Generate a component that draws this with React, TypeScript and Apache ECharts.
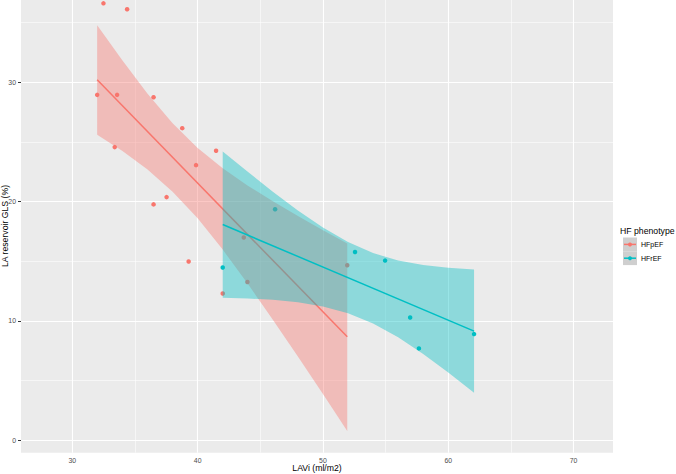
import React, { useEffect, useRef } from "react";
import * as echarts from "echarts";

// HFpEF observations (LAVi, LA reservoir GLS)
const hfpefPoints: [number, number][] = [
  [32.48, 36.62], [34.37, 36.12], [31.98, 28.95], [33.57, 28.95], [36.48, 28.75],
  [33.38, 24.57], [38.77, 26.16], [41.47, 24.27], [39.87, 23.06], [36.48, 19.77],
  [37.52, 20.38], [43.68, 16.99], [39.28, 14.98], [42.0, 12.3], [43.97, 13.27],
  [51.94, 14.67],
];
// HFrEF observations
const hfrefPoints: [number, number][] = [
  [42.0, 14.48], [46.18, 19.36], [52.56, 15.78], [54.96, 15.06],
  [56.96, 10.29], [57.66, 7.7], [62.06, 8.9],
];

// fitted lines (end points)
const hfpefFit: [number, number][] = [[31.98, 30.21], [51.94, 8.67]];
const hfrefFit: [number, number][] = [[42.0, 18.08], [62.06, 9.15]];

// confidence ribbons
const hfpefBandX = [31.98, 34, 36, 38, 40, 42, 44, 46, 48, 50, 51.94];
const hfpefBandLow = [25.6, 24.24, 22.69, 20.84, 18.6, 15.98, 13.12, 10.11, 7.02, 3.89, 0.78];
const hfpefBandHigh = [34.78, 31.82, 29.05, 26.58, 24.5, 22.8, 21.34, 20.03, 18.8, 17.61, 16.5];

const hfrefBandX = [42.0, 44, 46, 48, 50, 52, 54, 56, 58, 60, 62.06];
const hfrefBandLow = [11.95, 11.88, 11.77, 11.56, 11.21, 10.65, 9.79, 8.63, 7.23, 5.68, 3.98];
const hfrefBandHigh = [24.21, 22.5, 20.83, 19.26, 17.83, 16.62, 15.69, 15.07, 14.69, 14.46, 14.32];

const xMajor = [30, 40, 50, 60, 70];
const xMinor = [35, 45, 55, 65];
const yMajor = [0, 10, 20, 30];
const yMinor = [5, 15, 25, 35];

const legendNames = ["HFpEF", "HFrEF"];
const xTitle = "LAVi (ml/m2)";
const yTitle = "LA reservoir GLS (%)";
const legendTitle = "HF phenotype";

const RED = "#F8766D";
const TEAL = "#00BFC4";

function ribbon(xs: number[], lo: number[], hi: number[], fill: string, z: number) {
  return {
    type: "custom",
    z,
    clip: true,
    silent: true,
    data: [[xs[0], lo[0]]],
    renderItem: (_p: any, api: any) => {
      const pts: number[][] = [];
      for (let i = 0; i < xs.length; i++) pts.push(api.coord([xs[i], hi[i]]));
      for (let i = xs.length - 1; i >= 0; i--) pts.push(api.coord([xs[i], lo[i]]));
      return { type: "polygon", shape: { points: pts }, style: { fill } };
    },
  };
}

export default function App() {
  const ref = useRef<HTMLDivElement>(null);
  useEffect(() => {
    if (!ref.current) return;
    const chart = echarts.init(ref.current, undefined, { renderer: "svg" });
    const font = "Liberation Sans, Arial, sans-serif";
    const gridLines = [
      ...xMajor.map((v) => ({ xAxis: v, lineStyle: { color: "#FFFFFF", width: 1.1, type: "solid" } })),
      ...xMinor.map((v) => ({ xAxis: v, lineStyle: { color: "#FFFFFF", width: 0.55, type: "solid" } })),
      ...yMajor.map((v) => ({ yAxis: v, lineStyle: { color: "#FFFFFF", width: 1.1, type: "solid" } })),
      ...yMinor.map((v) => ({ yAxis: v, lineStyle: { color: "#FFFFFF", width: 0.55, type: "solid" } })),
    ];
    const legendTop = 237.5;
    const keyH = 13.8;
    const graphics: any[] = [
      {
        type: "text",
        x: 317,
        y: 468,
        style: { text: xTitle, fontSize: 8.7, fontFamily: font, fill: "#000000", align: "center", verticalAlign: "middle" },
      },
      {
        type: "text",
        x: 4.5,
        y: 226,
        rotation: Math.PI / 2,
        style: { text: yTitle, fontSize: 8.7, fontFamily: font, fill: "#000000", align: "center", verticalAlign: "middle" },
      },
      {
        type: "text",
        x: 620,
        y: 231,
        style: { text: legendTitle, fontSize: 8.7, fontFamily: font, fill: "#000000", verticalAlign: "middle" },
      },
    ];
    legendNames.forEach((name, i) => {
      const cy = legendTop + keyH * i + keyH / 2;
      const color = i === 0 ? RED : TEAL;
      graphics.push(
        { type: "rect", shape: { x: 623, y: legendTop + keyH * i, width: 14, height: keyH }, style: { fill: "#CFCFCF" } },
        { type: "line", shape: { x1: 624, y1: cy, x2: 636, y2: cy }, style: { stroke: color, lineWidth: 1.5 } },
        { type: "circle", shape: { cx: 630, cy, r: 2 }, style: { fill: color } },
        {
          type: "text",
          x: 641,
          y: cy,
          style: { text: name, fontSize: 7, fontFamily: font, fill: "#000000", verticalAlign: "middle" },
        }
      );
    });

    chart.setOption({
      animation: false,
      textStyle: { fontFamily: font },
      grid: {
        left: 21,
        right: 63,
        top: 0,
        bottom: 21.3,
        show: true,
        backgroundColor: "#EBEBEB",
        borderWidth: 0,
        containLabel: false,
        outerBoundsMode: "none",
      },
      xAxis: {
        type: "value",
        min: 25.9,
        max: 73.15,
        axisLine: { show: false },
        splitLine: { show: false },
        axisTick: { show: true, length: 3, lineStyle: { color: "#333333", width: 1 }, customValues: xMajor },
        axisLabel: { color: "#4D4D4D", fontSize: 6.9, margin: 4, customValues: xMajor, fontFamily: font },
      },
      yAxis: {
        type: "value",
        min: -1.04,
        max: 36.9,
        axisLine: { show: false },
        splitLine: { show: false },
        axisTick: { show: true, length: 3, lineStyle: { color: "#333333", width: 1 }, customValues: yMajor },
        axisLabel: { color: "#4D4D4D", fontSize: 6.9, margin: 5, customValues: yMajor, fontFamily: font },
      },
      graphic: graphics,
      series: [
        {
          type: "scatter",
          data: [],
          z: 1,
          silent: true,
          markLine: { silent: true, z: 1, symbol: "none", label: { show: false }, animation: false, data: gridLines },
        },
        { type: "scatter", name: "HFpEF", data: hfpefPoints, symbolSize: 4.5, itemStyle: { color: RED, opacity: 1 }, z: 2 },
        { type: "scatter", name: "HFrEF", data: hfrefPoints, symbolSize: 4.5, itemStyle: { color: TEAL, opacity: 1 }, z: 2 },
        ribbon(hfpefBandX, hfpefBandLow, hfpefBandHigh, "rgba(248,118,109,0.4)", 3),
        { type: "line", data: hfpefFit, symbol: "none", lineStyle: { color: RED, width: 1.5 }, z: 4, silent: true },
        ribbon(hfrefBandX, hfrefBandLow, hfrefBandHigh, "rgba(0,191,196,0.4)", 5),
        { type: "line", data: hfrefFit, symbol: "none", lineStyle: { color: TEAL, width: 1.5 }, z: 6, silent: true },
      ],
    });
    return () => chart.dispose();
  }, []);
  return <div ref={ref} style={{ width: 676, height: 474, position: "absolute", left: 0, top: 0 }} />;
}
